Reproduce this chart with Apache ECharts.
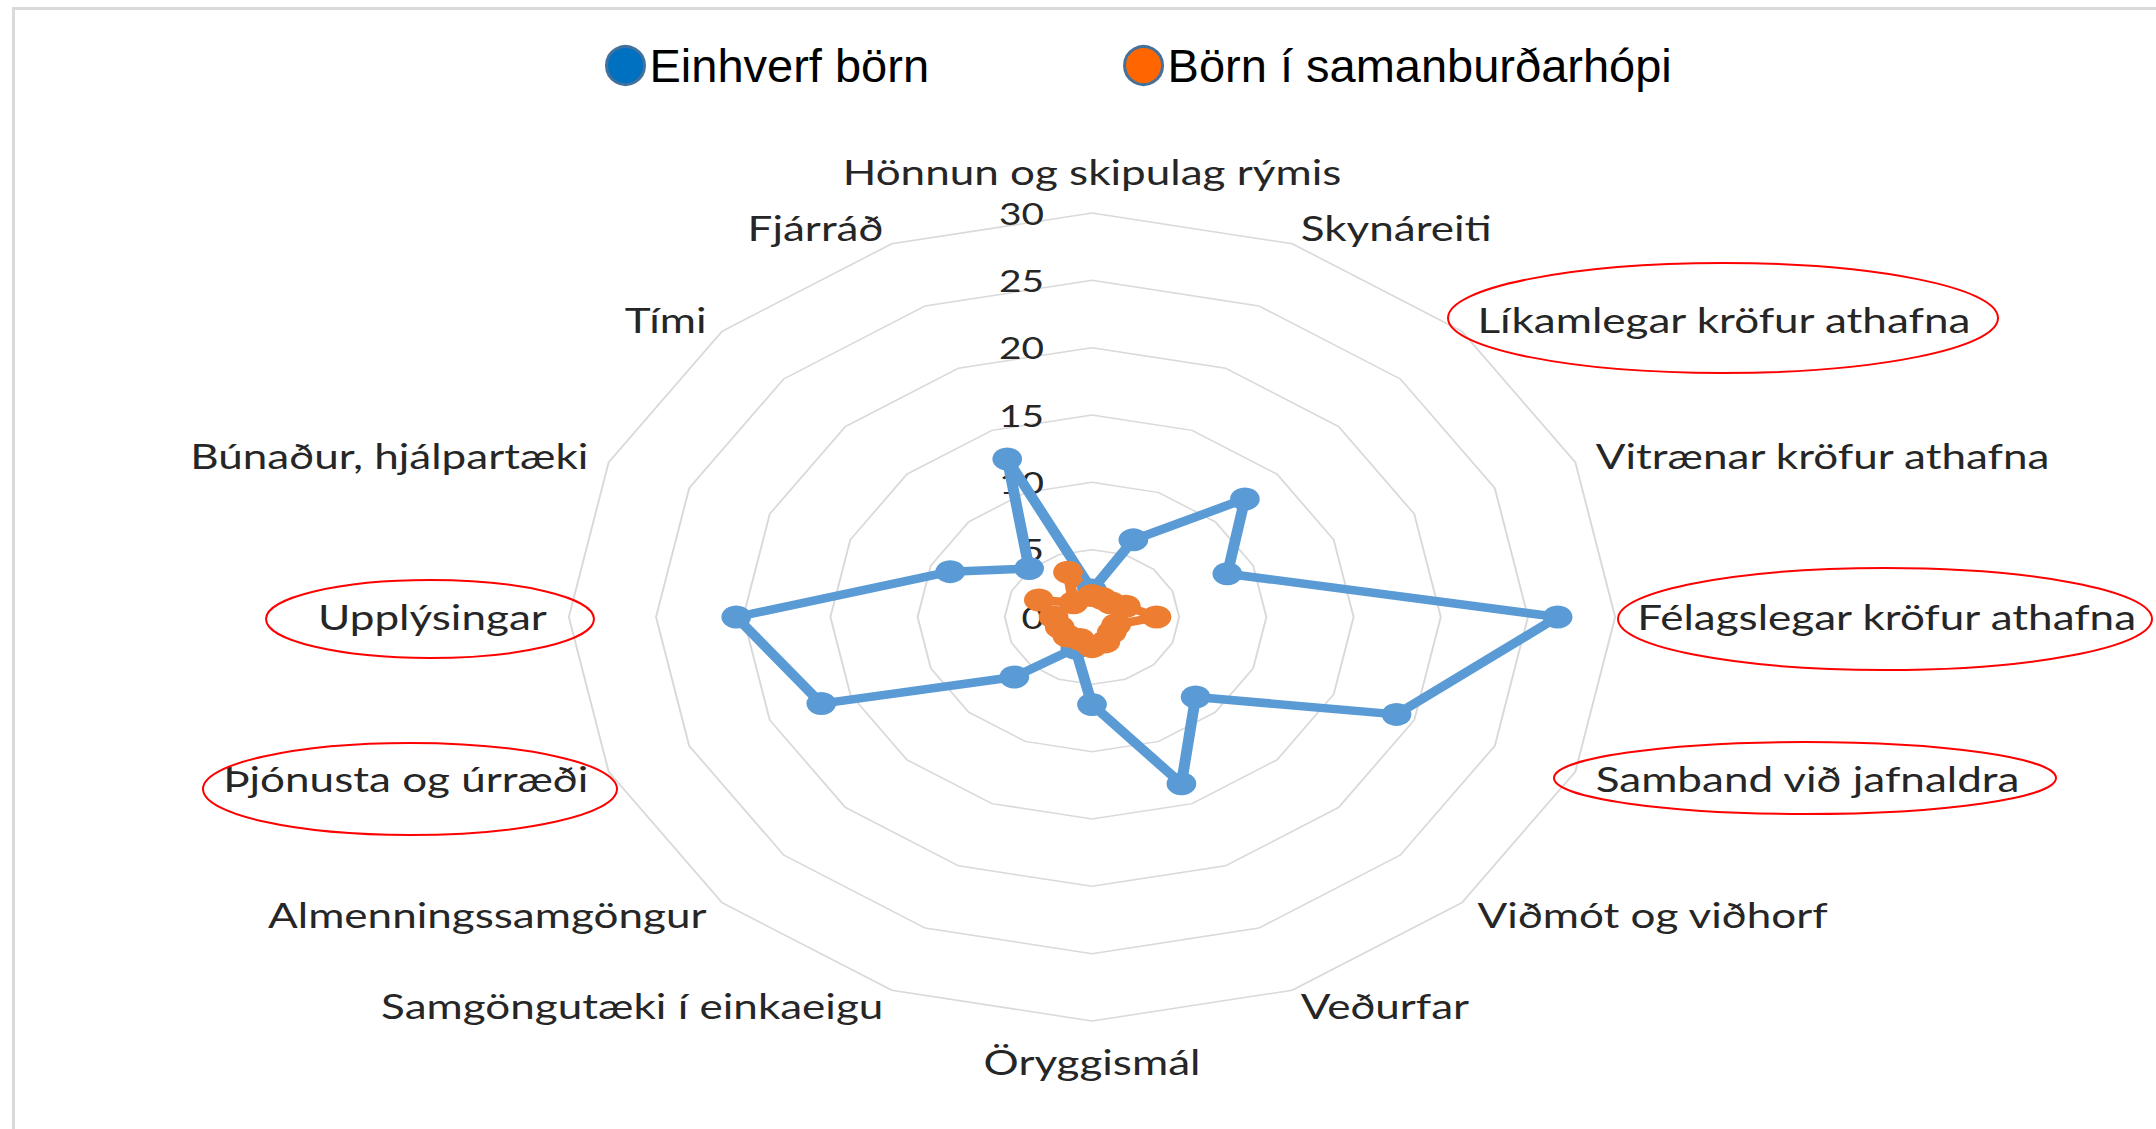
<!DOCTYPE html>
<html>
<head>
<meta charset="utf-8">
<title>Einhverf börn og samanburðarhópur</title>
<script src="https://cdn.jsdelivr.net/npm/echarts@6/dist/echarts.min.js"></script>
<style>
    html, body { margin: 0; padding: 0; background: #fff; overflow: hidden; }
    #radar { position: absolute; left: 0; top: 0; height: 1129px; transform-origin: 0 0; }
    #overlay { position: absolute; left: 0; top: 0; width: 2156px; height: 1129px; }
</style>
</head>
<body>
<div id="radar"></div>
<div id="overlay"></div>
<script>
    // flokkar, rettsaelis fra toppi
    var categories = [
        'Hönnun og skipulag rýmis', 'Skynáreiti', 'Líkamlegar kröfur athafna',
        'Vitrænar kröfur athafna', 'Félagslegar kröfur athafna', 'Samband við jafnaldra',
        'Viðmót og viðhorf', 'Veðurfar', 'Öryggismál', 'Samgöngutæki í einkaeigu',
        'Almenningssamgöngur', 'Þjónusta og úrræði', 'Upplýsingar',
        'Búnaður, hjálpartæki', 'Tími', 'Fjárráð'
    ];
    var einhverf = [2, 6.2, 12.4, 8.4, 26.7, 18.9, 8.4, 13.4, 6.5, 2.5, 6.3, 16.8, 20.4, 8.8, 5.1, 12.7];
    var samanburdur = [1.6, 1.5, 1.5, 2.1, 3.7, 1.5, 1.6, 2, 2.2, 1.8, 2, 2, 2.2, 3.3, 1.5, 3.6];
    var seriesNames = ['Einhverf börn', 'Börn í samanburðarhópi'];
    var axisMax = 30;
    var axisSplits = 6;

    // myndin er teygd larett
    var SX = 1.295;
    var W = 2156, H = 1129;

    // echarts radar fer rangsaelis, snua rodinni vid
    var order = [0];
    for (var i = categories.length - 1; i > 0; i--) order.push(i);
    function reorder(arr) { return order.map(function (k) { return arr[k]; }); }

    var indicator = order.map(function (k, n) {
        var ind = { name: categories[k], min: 0, max: axisMax };
        if (n === 0) {
            ind.axisLabel = {
                show: true, fontFamily: 'Lato', fontSize: 30, color: '#262626', margin: 37
            };
        }
        return ind;
    });

    var radarDom = document.getElementById('radar');
    radarDom.style.width = (W / SX) + 'px';
    radarDom.style.transform = 'scaleX(' + SX + ')';

    var radarChart = echarts.init(radarDom, null, { renderer: 'svg' });
    radarChart.setOption({
        animation: false,
        radar: {
            center: [1092 / SX, 617],
            radius: 404,
            startAngle: 90,
            splitNumber: axisSplits,
            shape: 'polygon',
            nameGap: 17,
            axisName: { color: '#262626', fontFamily: 'Lato', fontSize: 34, padding: [7, 0, 7, 0] },
            axisLine: { show: false },
            axisTick: { show: false },
            axisLabel: { show: false },
            splitArea: { show: false },
            splitLine: { lineStyle: { color: '#d9d9d9', width: 1.5 } },
            indicator: indicator
        },
        series: [
            {
                name: seriesNames[0],
                type: 'radar',
                symbol: 'circle',
                symbolSize: 23,
                lineStyle: { width: 8.5, color: '#5B9BD5' },
                itemStyle: { color: '#5B9BD5' },
                data: [{ name: seriesNames[0], value: reorder(einhverf) }]
            },
            {
                name: seriesNames[1],
                type: 'radar',
                symbol: 'circle',
                symbolSize: 23,
                lineStyle: { width: 8.5, color: '#ED7D31' },
                itemStyle: { color: '#ED7D31' },
                data: [{ name: seriesNames[1], value: reorder(samanburdur) }]
            }
        ]
    });

    // skyringar og rammi, ekki teygt
    function ring(cx, cy, rx, ry) {
        return {
            type: 'ellipse', shape: { cx: cx, cy: cy, rx: rx, ry: ry },
            style: { fill: 'none', stroke: '#ff0000', lineWidth: 2 }, z: 10
        };
    }
    var overlay = echarts.init(document.getElementById('overlay'), null, { renderer: 'svg' });
    overlay.setOption({
        animation: false,
        xAxis: { show: false },
        yAxis: { show: false },
        legend: {
            left: 600,
            top: 37,
            itemGap: 194,
            itemWidth: 38,
            itemHeight: 38,
            icon: 'circle',
            textStyle: { fontFamily: 'Liberation Sans', fontSize: 47, color: '#000' },
            data: [
                { name: seriesNames[0], itemStyle: { color: '#0070C0', borderColor: '#41719C', borderWidth: 3 } },
                { name: seriesNames[1], itemStyle: { color: '#FF6600', borderColor: '#41719C', borderWidth: 3 } }
            ]
        },
        series: [
            { name: seriesNames[0], type: 'line', data: [] },
            { name: seriesNames[1], type: 'line', data: [] }
        ],
        graphic: [
            { type: 'rect', shape: { x: 12, y: 7, width: W, height: 3 }, style: { fill: '#d9d9d9' } },
            { type: 'rect', shape: { x: 12, y: 7, width: 3, height: H }, style: { fill: '#d9d9d9' } },
            ring(1723, 318, 275, 55),
            ring(1885, 619, 267, 51),
            ring(1805, 778, 251, 36),
            ring(430, 619, 164, 39),
            ring(410, 789, 207, 46)
        ]
    });
</script>
</body>
</html>
